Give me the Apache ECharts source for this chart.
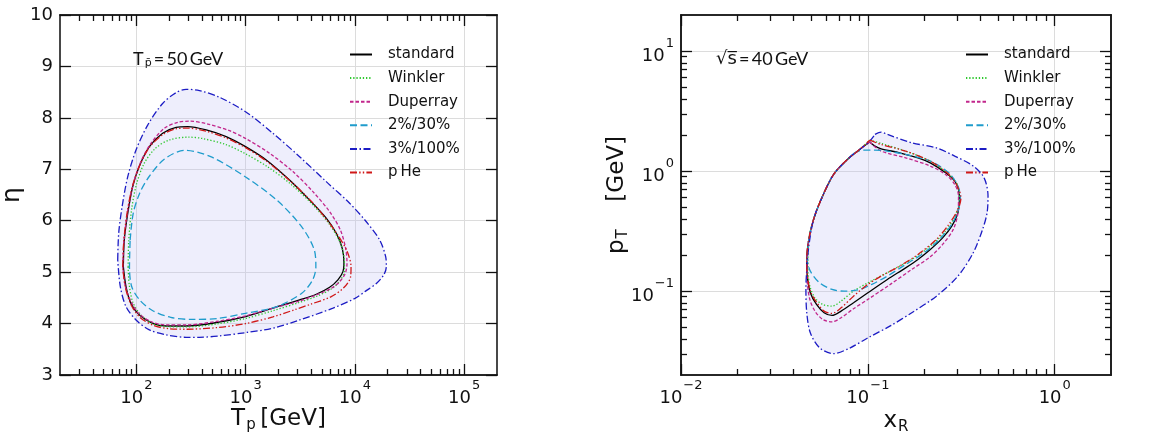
<!DOCTYPE html>
<html><head><meta charset="utf-8">
<script src="https://cdn.jsdelivr.net/npm/echarts@6/dist/echarts.min.js"></script>
<style>html,body{margin:0;padding:0;background:#fff}#c{width:1159px;height:441px}</style>
</head><body><div id="c"></div>
<script>
// ---------- names & ticks ----------
const seriesNames = ['standard','Winkler','Duperray','2%/30%','3%/100%','p\u2009He'];
const seriesColors = ['#000000','#2ec82e','#c2268c','#1f9ccc','#1c1cc4','#d01818'];
const leftXMajor = [100,1000,10000,100000];
const leftXMinor = [30,40,50,60,70,80,90,200,300,400,500,600,700,800,900,2000,3000,4000,5000,6000,7000,8000,9000,20000,30000,40000,50000,60000,70000,80000,90000];
const leftYTicks = [3,4,5,6,7,8,9,10];
const rightXMajor = [0.01,0.1,1];
const rightXMinor = [0.02,0.03,0.04,0.05,0.06,0.07,0.08,0.09,0.2,0.3,0.4,0.5,0.6,0.7,0.8,0.9];
const rightYMajor = [0.1,1,10];
const rightYMinor = [0.03,0.04,0.05,0.06,0.07,0.08,0.09,0.2,0.3,0.4,0.5,0.6,0.7,0.8,0.9,2,3,4,5,6,7,8,9];

// ---------- left panel: [T_p (GeV), eta] ----------
const leftStandard = [[76.0,5.107],[77.6,5.625],[83.4,6.14],[92.5,6.66],[106,7.05],[131.5,7.44],[174,7.70],[231,7.816],[295,7.83],[436,7.765],[664,7.635],[998,7.44],[1545,7.18],[2523,6.79],[3855,6.40],[5470,6.05],[6761,5.755],[7674,5.46],[7943,5.17],[7780,5.01],[6998,4.85],[5875,4.705],[4436,4.57],[3119,4.46],[1778,4.30],[998,4.135],[537,4.018],[285,3.953],[187,3.953],[141,4.005],[106,4.17],[89.3,4.39],[80.4,4.72],[76.0,5.107]];
const leftWinkler = [[84.1,5.1],[85.1,5.6],[90.2,6.2],[100,6.7],[117,7.1],[148,7.4],[200,7.57],[302,7.625],[398,7.6],[661,7.48],[1000,7.3],[1585,7.05],[2630,6.7],[4169,6.3],[5754,5.95],[7244,5.6],[7943,5.3],[8035,5.05],[7413,4.85],[6166,4.68],[4467,4.53],[3090,4.41],[1778,4.25],[1000,4.1],[537,3.99],[285,3.935],[191,3.94],[141,4.0],[110,4.17],[93.3,4.4],[86.1,4.75],[84.1,5.1]];
const leftDuperray = [[75.0,5.107],[77.1,5.625],[83.4,6.2],[94.0,6.73],[110,7.15],[136,7.505],[181,7.80],[239,7.913],[306,7.935],[451,7.88],[711,7.75],[998,7.60],[1660,7.31],[2710,6.955],[4130,6.565],[5875,6.175],[7362,5.82],[8241,5.46],[8472,5.17],[8185,4.98],[7261,4.815],[6081,4.685],[4436,4.556],[3119,4.44],[1778,4.30],[998,4.15],[537,4.04],[285,3.973],[187,3.973],[141,4.025],[106,4.187],[89.3,4.43],[79.3,4.72],[75.0,5.107]];
const leftCut30 = [[87.7,5.62],[93.5,6.14],[107,6.53],[130,6.85],[181,7.20],[277,7.37],[485,7.24],[1000,6.85],[1932,6.40],[3266,5.88],[4256,5.43],[4395,5.10],[4111,4.85],[3266,4.59],[1932,4.33],[1000,4.20],[553,4.10],[327,4.08],[206,4.12],[139,4.26],[107,4.46],[90.6,4.72],[86.5,5.10],[87.7,5.62]];
const leftCut100 = [[67.5,5.24],[68.9,5.755],[74.0,6.27],[83.4,6.857],[99.3,7.375],[127,7.86],[174,8.28],[231,8.49],[285,8.555],[378,8.53],[577,8.40],[998,8.12],[1778,7.70],[3119,7.245],[5470,6.76],[8954,6.34],[12735,5.98],[16870,5.625],[19140,5.30],[19410,5.107],[18370,4.945],[15740,4.78],[12735,4.64],[10020,4.49],[6310,4.30],[3119,4.07],[1778,3.91],[998,3.824],[577,3.76],[378,3.733],[285,3.733],[187,3.78],[131.5,3.876],[99.3,4.07],[80.4,4.33],[71.3,4.718],[67.5,5.24]];
const leftPHe = [[75.0,5.1],[76.7,5.6],[82.2,6.15],[91.6,6.65],[106,7.05],[132,7.43],[176,7.68],[234,7.79],[295,7.80],[437,7.74],[661,7.61],[1000,7.42],[1549,7.16],[2570,6.77],[3981,6.38],[5623,6.0],[7079,5.7],[8511,5.4],[9226,5.1],[9120,4.9],[7943,4.7],[6026,4.52],[3981,4.38],[2818,4.27],[1778,4.13],[1000,4.0],[537,3.92],[285,3.89],[200,3.9],[145,3.96],[108,4.12],[90.2,4.35],[79.4,4.7],[75.0,5.1]];

// ---------- right panel: [x_R, p_T (GeV)] ----------
const rightStandard = [[0.1023,1.746],[0.1091,1.614],[0.1178,1.535],[0.1479,1.422],[0.1854,1.291],[0.2158,1.172],[0.2606,0.968],[0.2917,0.826],[0.3055,0.703],[0.309,0.581],[0.3034,0.450],[0.2812,0.348],[0.2512,0.278],[0.2158,0.2223],[0.1854,0.1837],[0.1592,0.1563],[0.1271,0.125],[0.1,0.0968],[0.0838,0.080],[0.0719,0.0681],[0.0643,0.0627],[0.0583,0.0661],[0.0531,0.0774],[0.0492,0.0968],[0.0474,0.1334],[0.0471,0.1837],[0.0483,0.270],[0.0512,0.3954],[0.0562,0.5808],[0.0655,0.9376],[0.0776,1.250],[0.0904,1.517],[0.1023,1.746]];
const rightWinkler = [[0.1023,1.811],[0.1178,1.702],[0.1592,1.469],[0.2158,1.211],[0.2655,0.968],[0.2979,0.80],[0.309,0.640],[0.3055,0.5105],[0.2864,0.3954],[0.2559,0.3062],[0.2158,0.2371],[0.1718,0.1837],[0.1318,0.1469],[0.1,0.1172],[0.0838,0.1],[0.0719,0.0826],[0.0643,0.075],[0.0573,0.0774],[0.0521,0.0879],[0.0489,0.1102],[0.0478,0.1517],[0.0483,0.270],[0.0512,0.3954],[0.0562,0.5808],[0.0655,0.9376],[0.0776,1.250],[0.0904,1.517],[0.1023,1.811]];
const rightDuperray = [[0.1023,1.746],[0.1178,1.469],[0.1592,1.291],[0.2158,1.102],[0.2606,0.9376],[0.2917,0.774],[0.3055,0.619],[0.3034,0.450],[0.2864,0.327],[0.2512,0.2449],[0.2158,0.1932],[0.1718,0.1517],[0.1318,0.1138],[0.1,0.0853],[0.0838,0.0713],[0.0719,0.060],[0.0643,0.0555],[0.0573,0.0581],[0.0521,0.0681],[0.0489,0.0853],[0.0474,0.1172],[0.0471,0.1722],[0.0483,0.270],[0.0512,0.3954],[0.0562,0.5808],[0.0655,0.9376],[0.0776,1.250],[0.0904,1.517],[0.1023,1.746]];
const rightCut30 = [[0.0838,1.40],[0.0938,1.496],[0.1091,1.496],[0.1271,1.469],[0.1592,1.377],[0.2158,1.211],[0.271,0.968],[0.3034,0.75],[0.3126,0.600],[0.3055,0.480],[0.2812,0.360],[0.2415,0.270],[0.20,0.2085],[0.1592,0.1667],[0.1271,0.1334],[0.105,0.1138],[0.0904,0.1033],[0.0746,0.1],[0.0643,0.1033],[0.0552,0.1172],[0.0492,0.1469],[0.0474,0.1837],[0.0483,0.270],[0.0512,0.3954],[0.0562,0.5808],[0.0655,0.9376],[0.0776,1.250],[0.0838,1.40]];
const rightCut100 = [[0.1091,2.023],[0.1178,2.113],[0.1271,2.023],[0.1718,1.722],[0.2328,1.563],[0.2917,1.334],[0.3664,1.102],[0.4188,0.879],[0.4395,0.619],[0.4345,0.450],[0.4111,0.327],[0.3664,0.209],[0.3034,0.1334],[0.2328,0.0908],[0.1718,0.0661],[0.1318,0.0513],[0.1,0.0408],[0.0805,0.0337],[0.0655,0.0301],[0.0552,0.0337],[0.0492,0.045],[0.0471,0.0661],[0.0466,0.1033],[0.0471,0.1514],[0.0483,0.2371],[0.0512,0.3954],[0.0562,0.5808],[0.0655,0.9376],[0.0776,1.25],[0.0904,1.517],[0.1012,1.746],[0.1091,2.023]];
const rightPHe = [[0.1023,1.811],[0.1178,1.667],[0.1592,1.469],[0.2158,1.211],[0.2655,0.968],[0.2979,0.774],[0.3148,0.600],[0.3034,0.480],[0.271,0.360],[0.2328,0.270],[0.1854,0.2023],[0.1476,0.1614],[0.1178,0.1334],[0.1,0.1138],[0.0838,0.0908],[0.0719,0.0726],[0.0643,0.0652],[0.0583,0.0681],[0.0531,0.0809],[0.0492,0.1],[0.0474,0.138],[0.0471,0.1837],[0.0483,0.270],[0.0512,0.3954],[0.0562,0.5808],[0.0655,0.9376],[0.0776,1.250],[0.0904,1.517],[0.1023,1.811]];

const leftData = [leftStandard, leftWinkler, leftDuperray, leftCut30, leftCut100, leftPHe];
const rightData = [rightStandard, rightWinkler, rightDuperray, rightCut30, rightCut100, rightPHe];
const dashes = ['solid', [1.3,1.9], [3.5,2], [7,3.5], [7,2.5,1.5,2.5], [7,2.2,1.4,2.2,1.4,2.2]];

// ---------- styling helpers ----------
const FRAME = '#1a1a1a';
const tickRich = {
  b:{fontSize:18,fontFamily:'DejaVu Sans',color:'#111',lineHeight:28,verticalAlign:'bottom'},
  e:{fontSize:13,fontFamily:'DejaVu Sans',color:'#111',verticalAlign:'top',padding:[0,0,0,1]}
};
function supLabel(v){
  const e = Math.round(Math.log10(v));
  return '{b|10}{e|' + (e < 0 ? '\u2212' + (-e) : e) + '}';
}
function tickStyle(){ return {color:'#111', width:1.3}; }
function logAxis(o){
  const a = {
    type:'log', logBase:10, gridIndex:o.grid, min:o.min, max:o.max, position:o.pos,
    axisLine:{show:true,onZero:false,lineStyle:{color:FRAME,width:1.6}},
    axisTick:{show:true,inside:true,length:o.len,customValues:o.ticks,lineStyle:tickStyle()},
    axisLabel:{show:!!o.label,formatter:supLabel,rich:tickRich,margin:o.margin||4},
    splitLine:{show:!!o.split,lineStyle:{color:'#dcdcdc',width:1}}
  };
  if (o.label) a.axisLabel.customValues = o.ticks;
  if (o.name) { a.name = o.name; a.nameLocation = 'middle'; a.nameGap = o.nameGap; a.nameMoveOverlap = false; a.nameTextStyle = o.nameStyle; }
  return a;
}
const nameRich = {
  a:{fontSize:23,fontFamily:'DejaVu Sans',color:'#111',verticalAlign:'top'},
  s:{fontSize:15,fontFamily:'DejaVu Sans',color:'#111',verticalAlign:'bottom',padding:[10,0,0,1]}
};

const xAxis = [
  logAxis({grid:0,min:20,max:200000,pos:'bottom',ticks:leftXMajor,len:11,label:true,split:true,
           name:'{a|T}{s|p}{a|\u2009[GeV]}',nameGap:33,nameStyle:{rich:nameRich}}),
  logAxis({grid:0,min:20,max:200000,pos:'bottom',ticks:leftXMinor,len:6}),
  logAxis({grid:0,min:20,max:200000,pos:'top',ticks:leftXMajor,len:11}),
  logAxis({grid:0,min:20,max:200000,pos:'top',ticks:leftXMinor,len:6}),
  logAxis({grid:1,min:0.01,max:2,pos:'bottom',ticks:rightXMajor,len:11,label:true,split:true,
           name:'{a|x}{s|R}',nameGap:35,nameStyle:{rich:nameRich}}),
  logAxis({grid:1,min:0.01,max:2,pos:'bottom',ticks:rightXMinor,len:6}),
  logAxis({grid:1,min:0.01,max:2,pos:'top',ticks:rightXMajor,len:11}),
  logAxis({grid:1,min:0.01,max:2,pos:'top',ticks:rightXMinor,len:6})
];
const yAxis = [
  {type:'value',gridIndex:0,min:leftYTicks[0],max:leftYTicks[leftYTicks.length-1],interval:1,position:'left',
   axisLine:{show:true,onZero:false,lineStyle:{color:FRAME,width:1.6}},
   axisTick:{show:true,inside:true,length:11,lineStyle:tickStyle()},
   axisLabel:{fontSize:18,fontFamily:'DejaVu Sans',color:'#111',margin:7},
   splitLine:{show:true,lineStyle:{color:'#dcdcdc',width:1}},
   name:'\u03b7',nameLocation:'middle',nameGap:35,nameMoveOverlap:false,nameTextStyle:{fontSize:25,fontFamily:'DejaVu Sans',color:'#111'}},
  {type:'value',gridIndex:0,min:leftYTicks[0],max:leftYTicks[leftYTicks.length-1],interval:1,position:'right',
   axisLine:{show:true,onZero:false,lineStyle:{color:FRAME,width:1.6}},
   axisTick:{show:true,inside:true,length:11,lineStyle:tickStyle()},
   axisLabel:{show:false},splitLine:{show:false}},
  logAxis({grid:1,min:0.02,max:20,pos:'left',ticks:rightYMajor,len:11,label:true,split:true,margin:7,
           name:'{a|p}{s|T}{a|\u2003\u2009[GeV]}',nameGap:50,nameStyle:{rich:nameRich}}),
  logAxis({grid:1,min:0.02,max:20,pos:'left',ticks:rightYMinor,len:6}),
  logAxis({grid:1,min:0.02,max:20,pos:'right',ticks:rightYMajor,len:11}),
  logAxis({grid:1,min:0.02,max:20,pos:'right',ticks:rightYMinor,len:6})
];

function fillSeries(data, xi, yi){
  return {
    type:'custom', name:'band', xAxisIndex:xi, yAxisIndex:yi, data:data, z:1, silent:true,
    renderItem:function(params, api){
      if (params.dataIndex !== 0) return null;
      const pts = data.map(function(p){ return api.coord(p); });
      return {type:'polygon', shape:{points:pts, smooth:0.3}, style:{fill:'rgba(190,190,245,0.26)', stroke:null}};
    }
  };
}
function lineSeries(i, data, xi, yi){
  return {
    type:'line', name:seriesNames[i], xAxisIndex:xi, yAxisIndex:yi, data:data,
    symbol:'none', showSymbol:false, smooth:0.3, z:2+i, silent:true,
    lineStyle:{color:seriesColors[i], width:1.3, type:dashes[i]},
    itemStyle:{color:seriesColors[i]}
  };
}
const series = [fillSeries(leftCut100,0,0), fillSeries(rightCut100,4,2)];
leftData.forEach(function(d,i){ series.push(lineSeries(i,d,0,0)); });
rightData.forEach(function(d,i){ series.push(lineSeries(i,d,4,2)); });

function legendAt(left){
  return {data:seriesNames, orient:'vertical', left:left, top:47, padding:0, itemWidth:22, itemHeight:14, itemGap:8.6,
          selectedMode:false, itemStyle:{opacity:0},
          textStyle:{fontSize:15,fontFamily:'DejaVu Sans',color:'#111',padding:[0,0,0,11]}};
}

const annRich = {
  a:{fontSize:18,fontFamily:'Lato',fill:'#111',verticalAlign:'top'},
  s:{fontSize:11,fontFamily:'DejaVu Sans',fill:'#111',verticalAlign:'bottom',padding:[8,0,0,1]},
  o:{fontSize:18,fontFamily:'DejaVu Sans',fill:'#111',verticalAlign:'top'}
};

const chart = echarts.init(document.getElementById('c'));
chart.setOption({
  animation:false,
  backgroundColor:'#ffffff',
  grid:[{left:60,top:15,width:437,height:360,outerBoundsMode:'none',containLabel:false},
        {left:681,top:15,width:430,height:360,outerBoundsMode:'none',containLabel:false}],
  xAxis:xAxis, yAxis:yAxis,
  legend:[legendAt(349), legendAt(965)],
  series:series
});
// second pass adds the annotations (also forces a full re-render of the axes)
chart.setOption({
  graphic:[
    {type:'text',left:133,top:50,silent:true,style:{text:'{a|T}{s|p\u0304}{a|\u2009=\u200950\u2009GeV}',rich:annRich}},
    {type:'text',left:716,top:50,silent:true,style:{text:'{o|\u221as\u0305}{a|\u2009=\u200940\u2009GeV}',rich:annRich}}
  ]
});
chart.resize();
</script></body></html>
